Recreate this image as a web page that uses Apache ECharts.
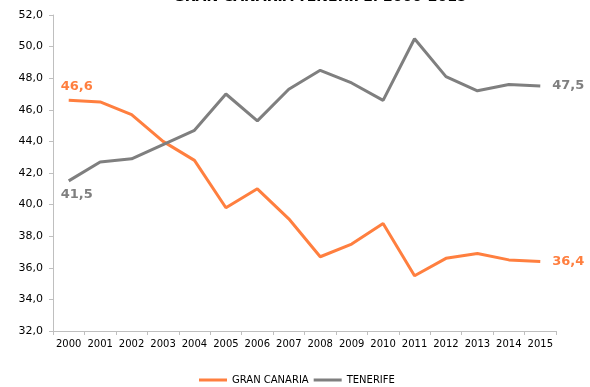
<!DOCTYPE html>
<html><head><meta charset="utf-8">
<script src="https://cdn.jsdelivr.net/npm/echarts@6/dist/echarts.min.js"></script>
<style>html,body{margin:0;padding:0;background:#fff}#c{width:590px;height:387px}</style>
</head><body><div id="c"></div>
<script>
const years = ['2000','2001','2002','2003','2004','2005','2006','2007','2008','2009','2010','2011','2012','2013','2014','2015'];
const granCanaria = [46.6,46.5,45.7,44.0,42.8,39.8,41.0,39.1,36.7,37.5,38.8,35.5,36.6,36.9,36.5,36.4];
const tenerife = [41.5,42.7,42.9,43.8,44.7,47.0,45.3,47.3,48.5,47.7,46.6,50.5,48.1,47.2,47.6,47.5];
const titleText = 'GRAN CANARIA-TENERIFE. 2000-2015';
const fmt = v => v.toFixed(1).replace('.', ',');
const FONT = 'DejaVu Sans';
function mk(arr, color, firstPos) {
  return arr.map((v, i) => {
    if (i === 0) return {value: v, label: {show: true, position: firstPos, distance: 7, offset: [8, 0], color, fontWeight: 'bold', fontSize: 13, fontFamily: FONT, formatter: p => fmt(p.value)}};
    if (i === arr.length - 1) return {value: v, label: {show: true, position: 'right', distance: 12, color, fontWeight: 'bold', fontSize: 13, fontFamily: FONT, formatter: p => fmt(p.value)}};
    return {value: v, label: {show: false}};
  });
}
const chart = echarts.init(document.getElementById('c'), null, {renderer: 'canvas'});
chart.setOption({
  animation: false,
  title: {text: titleText, left: 315, textAlign: 'center', top: -15, textStyle: {fontFamily: FONT, fontSize: 14, fontWeight: 'bold', color: '#000'}},
  grid: {left: 53, right: 34, top: 15, bottom: 56, containLabel: false},
  legend: {bottom: -3, left: 194, itemWidth: 28, itemHeight: 3, itemGap: 5,
    icon: 'rect',
    textStyle: {fontFamily: FONT, fontSize: 10, color: '#000'},
    data: ['GRAN CANARIA', 'TENERIFE']},
  xAxis: {type: 'category', data: years, boundaryGap: true,
    axisLine: {lineStyle: {color: '#BFBFBF', width: 1}},
    axisTick: {show: true, length: 4, interval: 0, lineStyle: {color: '#BFBFBF'}},
    axisLabel: {fontFamily: FONT, fontSize: 10, color: '#000', margin: 8, interval: 0}},
  yAxis: {type: 'value', min: 32, max: 52, interval: 2,
    axisLine: {show: true, lineStyle: {color: '#BFBFBF', width: 1}},
    axisTick: {show: true, length: 4, lineStyle: {color: '#BFBFBF'}},
    splitLine: {show: false},
    axisLabel: {fontFamily: FONT, fontSize: 11, color: '#000', margin: 10, formatter: v => fmt(v)}},
  series: [
    {name: 'GRAN CANARIA', type: 'line', data: mk(granCanaria, '#FF7F3F', 'top'), symbol: 'circle', symbolSize: 0, showSymbol: true, showAllSymbol: true, lineStyle: {color: '#FF7F3F', width: 3}, itemStyle: {color: '#FF7F3F'}},
    {name: 'TENERIFE', type: 'line', data: mk(tenerife, '#7F7F7F', 'bottom'), symbol: 'circle', symbolSize: 0, showSymbol: true, showAllSymbol: true, lineStyle: {color: '#7F7F7F', width: 3}, itemStyle: {color: '#7F7F7F'}}
  ]
});
</script></body></html>
